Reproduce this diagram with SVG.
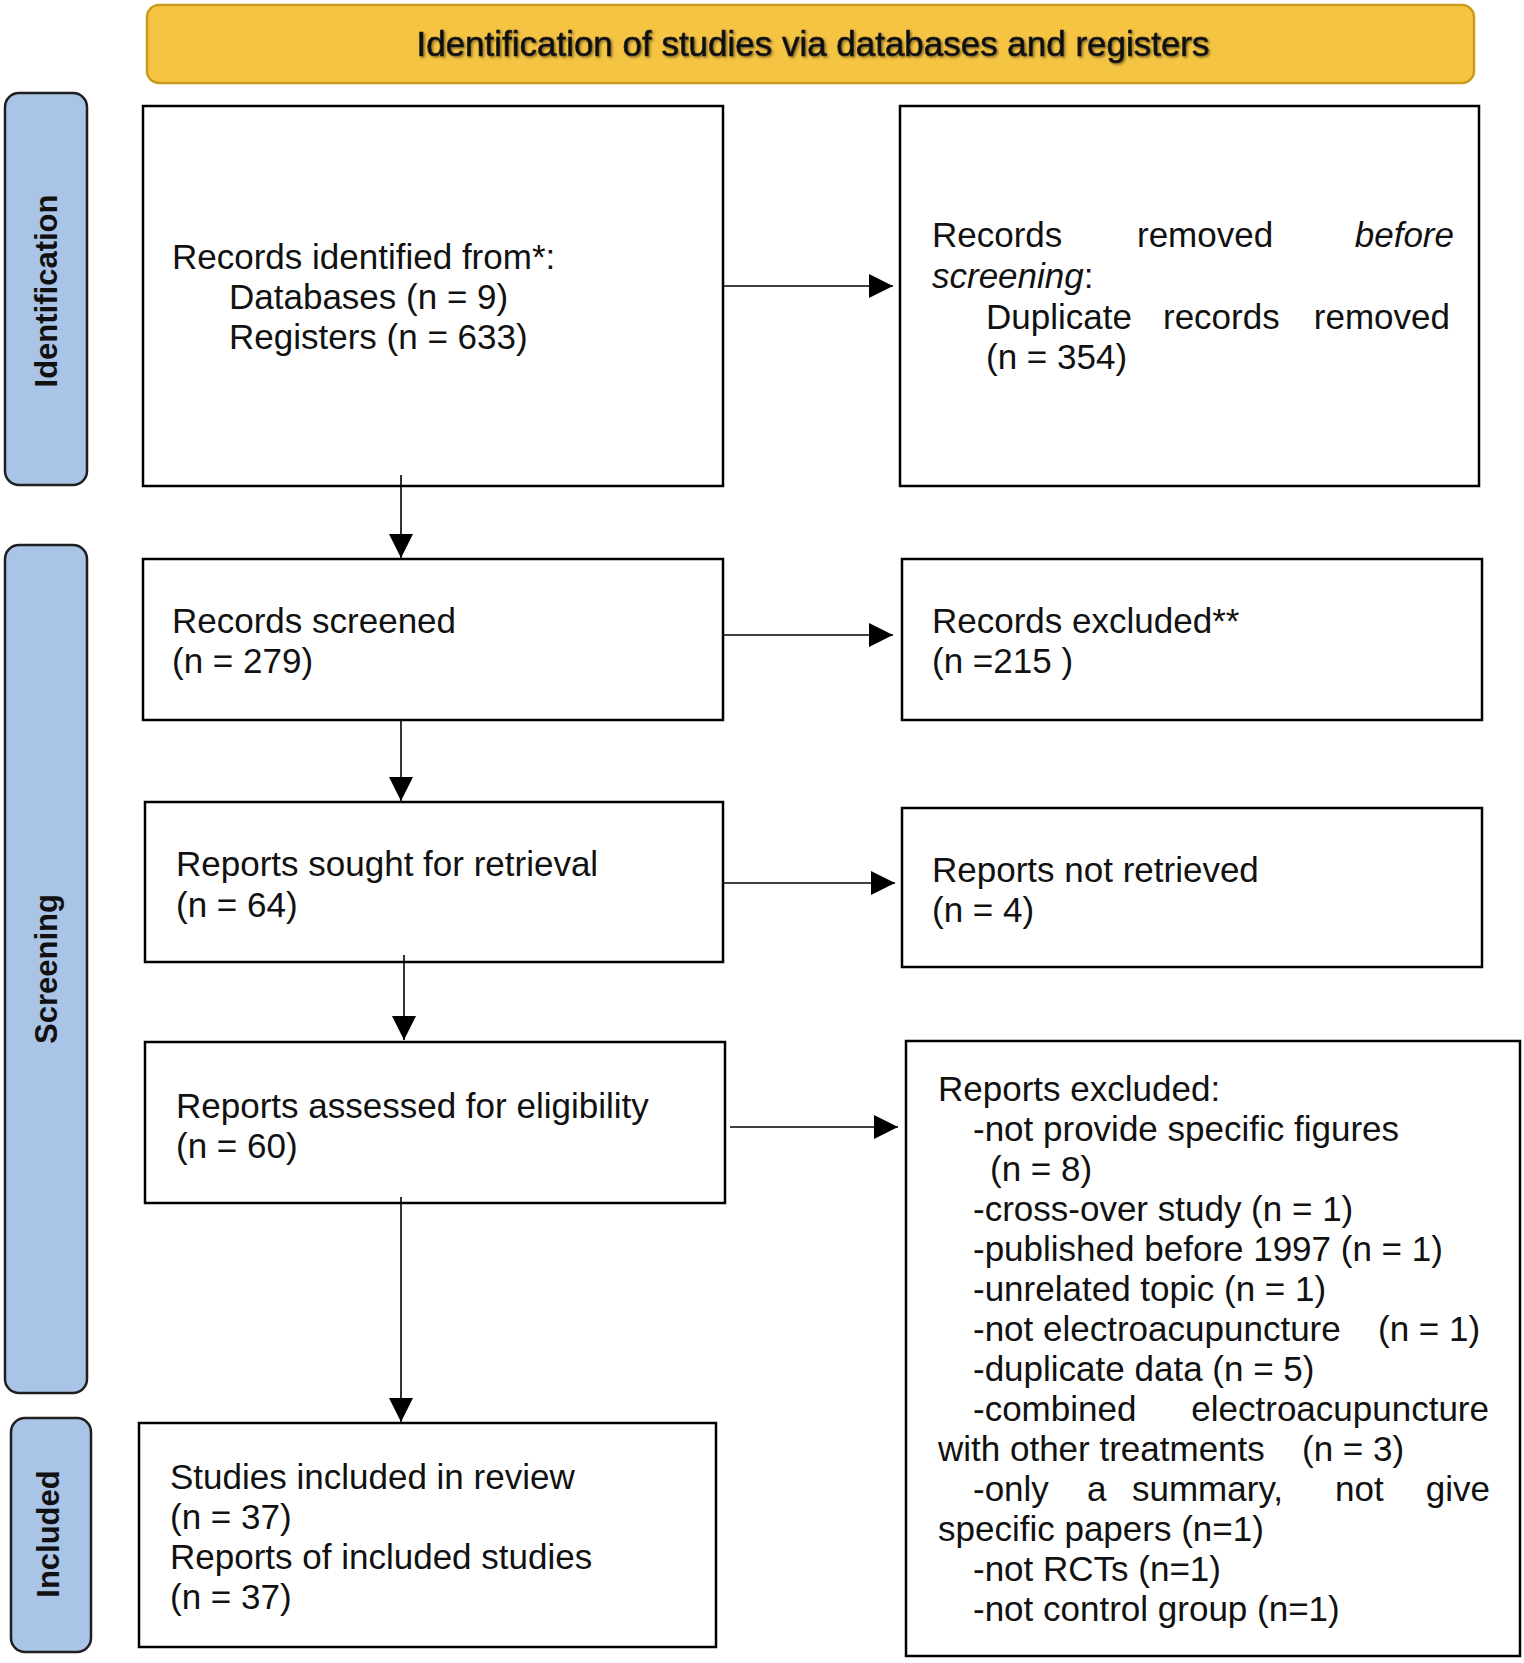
<svg xmlns="http://www.w3.org/2000/svg" width="1524" height="1663" viewBox="0 0 1524 1663">
<style>
.box{fill:#fff;stroke:#000;stroke-width:2.5}
.side{fill:#a9c4e6;stroke:#1f1f1f;stroke-width:2.5}
.t{font-family:"Liberation Sans",Arial,sans-serif;font-size:35px;fill:#111}
.s{font-family:"Liberation Sans",Arial,sans-serif;font-size:31px;font-weight:bold;fill:#111}
.c{stroke:#000;stroke-width:1.6;fill:none;marker-end:url(#ah)}
</style>
<defs>
<marker id="ah" markerUnits="userSpaceOnUse" markerWidth="24" markerHeight="24" refX="24" refY="12" orient="auto">
<path d="M0,0 L24,12 L0,24 z" fill="#000"/>
</marker>
<filter id="sh" x="-5%" y="-30%" width="110%" height="160%">
<feDropShadow dx="1.5" dy="1.5" stdDeviation="0.8" flood-color="#000" flood-opacity="0.45"/>
</filter>
</defs>
<rect width="1524" height="1663" fill="#fff"/>
<g id="header">
<rect x="147" y="5" width="1327" height="78" rx="12" fill="#f5c443" stroke="#c99a1b" stroke-width="2.5"/>
<text x="813" y="56" text-anchor="middle" class="t" font-size="37" textLength="793" lengthAdjust="spacingAndGlyphs" fill="#1a1a1a" stroke="#1a1a1a" stroke-width="0.6" filter="url(#sh)">Identification of studies via databases and registers</text>
</g>
<g id="side-identification">
<rect x="5" y="93" width="82" height="392" rx="14" class="side"/>
<text class="s" transform="translate(57,291) rotate(-90)" text-anchor="middle">Identification</text>
</g>
<g id="side-screening">
<rect x="5" y="545" width="82" height="848" rx="14" class="side"/>
<text class="s" transform="translate(57,969) rotate(-90)" text-anchor="middle">Screening</text>
</g>
<g id="side-included">
<rect x="11" y="1418" width="80" height="234" rx="14" class="side"/>
<text class="s" transform="translate(59,1534) rotate(-90)" text-anchor="middle">Included</text>
</g>
<g id="records-identified">
<rect x="143" y="106" width="580" height="380" class="box"/>
<text class="t" x="172" y="269">Records identified from*:</text>
<text class="t" x="229" y="309">Databases (n = 9)</text>
<text class="t" x="229" y="349">Registers (n = 633)</text>
</g>
<g id="records-removed">
<rect x="900" y="106" width="579" height="380" class="box"/>
<text class="t" x="932" y="247">Records</text>
<text class="t" x="1137" y="247">removed</text>
<text class="t" x="1454" y="247" text-anchor="end" font-style="italic">before</text>
<text class="t" x="932" y="288"><tspan font-style="italic">screening</tspan>:</text>
<text class="t" x="986" y="329">Duplicate</text>
<text class="t" x="1163" y="329">records</text>
<text class="t" x="1450" y="329" text-anchor="end">removed</text>
<text class="t" x="986" y="369">(n = 354)</text>
</g>
<g id="records-screened">
<rect x="143" y="559" width="580" height="161" class="box"/>
<text class="t" x="172" y="633">Records screened</text>
<text class="t" x="172" y="673">(n = 279)</text>
</g>
<g id="records-excluded">
<rect x="902" y="559" width="580" height="161" class="box"/>
<text class="t" x="932" y="633">Records excluded**</text>
<text class="t" x="932" y="673">(n =215 )</text>
</g>
<g id="reports-sought">
<rect x="145" y="802" width="578" height="160" class="box"/>
<text class="t" x="176" y="876">Reports sought for retrieval</text>
<text class="t" x="176" y="917">(n = 64)</text>
</g>
<g id="reports-not-retrieved">
<rect x="902" y="808" width="580" height="159" class="box"/>
<text class="t" x="932" y="882">Reports not retrieved</text>
<text class="t" x="932" y="922">(n = 4)</text>
</g>
<g id="reports-assessed">
<rect x="145" y="1042" width="580" height="161" class="box"/>
<text class="t" x="176" y="1118">Reports assessed for eligibility</text>
<text class="t" x="176" y="1158">(n = 60)</text>
</g>
<g id="reports-excluded">
<rect x="906" y="1041" width="614" height="615" class="box"/>
<text class="t" x="938" y="1101">Reports excluded:</text>
<text class="t" x="973" y="1141">-not provide specific figures</text>
<text class="t" x="990" y="1181">(n = 8)</text>
<text class="t" x="973" y="1221">-cross-over study (n = 1)</text>
<text class="t" x="973" y="1261">-published before 1997 (n = 1)</text>
<text class="t" x="973" y="1301">-unrelated topic (n = 1)</text>
<text class="t" x="973" y="1341">-not electroacupuncture</text>
<text class="t" x="1378" y="1341">(n = 1)</text>
<text class="t" x="973" y="1381">-duplicate data (n = 5)</text>
<text class="t" x="973" y="1421">-combined</text>
<text class="t" x="1489" y="1421" text-anchor="end">electroacupuncture</text>
<text class="t" x="938" y="1461">with other treatments</text>
<text class="t" x="1302" y="1461">(n = 3)</text>
<text class="t" x="973" y="1501">-only</text>
<text class="t" x="1087" y="1501">a</text>
<text class="t" x="1132" y="1501">summary,</text>
<text class="t" x="1335" y="1501">not</text>
<text class="t" x="1490" y="1501" text-anchor="end">give</text>
<text class="t" x="938" y="1541">specific papers (n=1)</text>
<text class="t" x="973" y="1581">-not RCTs (n=1)</text>
<text class="t" x="973" y="1621">-not control group (n=1)</text>
</g>
<g id="studies-included">
<rect x="139" y="1423" width="577" height="224" class="box"/>
<text class="t" x="170" y="1489">Studies included in review</text>
<text class="t" x="170" y="1529">(n = 37)</text>
<text class="t" x="170" y="1569">Reports of included studies</text>
<text class="t" x="170" y="1609">(n = 37)</text>
</g>
<g id="connectors">
<line x1="401" y1="475" x2="401" y2="558" class="c"/>
<line x1="723" y1="286" x2="893" y2="286" class="c"/>
<line x1="401" y1="720" x2="401" y2="801" class="c"/>
<line x1="723" y1="635" x2="893" y2="635" class="c"/>
<line x1="404" y1="955" x2="404" y2="1040" class="c"/>
<line x1="723" y1="883" x2="895" y2="883" class="c"/>
<line x1="401" y1="1197" x2="401" y2="1422" class="c"/>
<line x1="730" y1="1127" x2="898" y2="1127" class="c"/>
</g>
</svg>
